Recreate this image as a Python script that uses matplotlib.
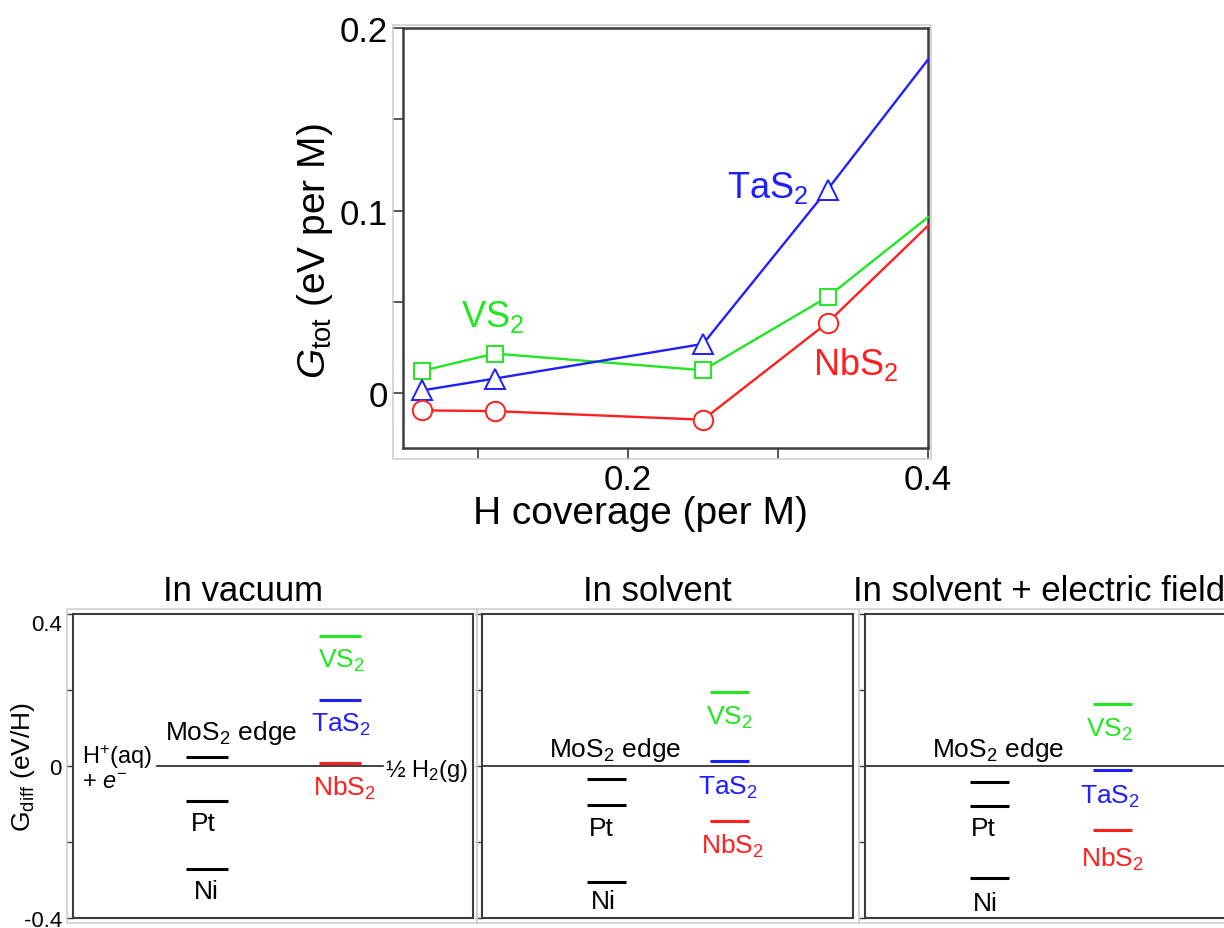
import matplotlib

matplotlib.use("Agg")

import matplotlib.pyplot as plt
from matplotlib.patches import Rectangle

plt.rcParams.update(
    {
        "font.family": ["Liberation Sans", "DejaVu Sans"],
        "mathtext.fontset": "custom",
        "mathtext.rm": "Liberation Sans",
        "mathtext.it": "Liberation Sans:italic",
        "mathtext.bf": "Liberation Sans:bold",
    }
)

# ---- top panel data: total free energy vs H coverage ----
coverage = [0.0625, 0.111, 0.25, 0.333, 0.4]
g_vs2 = [0.0122, 0.0217, 0.0126, 0.0527, 0.0964]
g_tas2 = [0.0015, 0.0080, 0.0270, 0.1115, 0.1827]
g_nbs2 = [-0.0094, -0.0098, -0.0145, 0.0386, 0.0917]

# ---- bottom panels data: differential free energy levels ----
conditions = ["In vacuum", "In solvent", "In solvent + electric field"]
ref_levels = ["MoS$_2$ edge", "Pt", "Ni"]
mos2_edge = [0.025, -0.035, -0.042]
pt_level = [-0.091, -0.102, -0.104]
ni_level = [-0.270, -0.305, -0.296]
vs2_level = [0.341, 0.194, 0.163]
tas2_level = [0.174, 0.014, -0.011]
nbs2_level = [0.009, -0.145, -0.168]

GREEN = "#22e622"
BLUE = "#1f1fff"
RED = "#ff1f1f"
SPINE = "#3c3c3c"
FRAME = "#cfcfcf"

W, H = 1224, 929
fig = plt.figure(figsize=(W / 100, H / 100), dpi=100)


def px_axes(x0, y0, x1, y1):
    return fig.add_axes([x0 / W, 1 - y1 / H, (x1 - x0) / W, (y1 - y0) / H])


def px_frame(x0, y0, x1, y1):
    fig.add_artist(
        Rectangle((x0 / W, 1 - y1 / H), (x1 - x0) / W, (y1 - y0) / H,
                  transform=fig.transFigure, fill=False, ec=FRAME, lw=1.2)
    )


# ================= top panel =================
ax = px_axes(403, 29, 928, 449)
px_frame(393, 26, 931, 460)
series = [
    (g_vs2, GREEN, "s", 12),
    (g_tas2, BLUE, "^", 14),
    (g_nbs2, RED, "o", 14),
]
for vals, col, mk, ms in series:
    ax.plot(coverage, vals, color=col, lw=1.7, marker=mk, ms=ms,
            mfc="white", mec=col, mew=1.4, markevery=[0, 1, 2, 3],
            clip_on=False, zorder=3)
ax.set_xlim(0.05, 0.4)
ax.set_ylim(-0.03, 0.2)
ax.set_xticks([0.1, 0.2, 0.3, 0.4])
ax.set_xticklabels(["", "0.2", "", "0.4"])
ax.set_yticks([0, 0.05, 0.1, 0.15, 0.2])
ax.set_yticklabels(["0", "", "0.1", "", "0.2"])
ax.tick_params(direction="out", length=8, width=1.2, labelsize=25,
               color=SPINE, pad=3)
for s in ax.spines.values():
    s.set_color(SPINE)
    s.set_linewidth(1.8)
ax.set_xlabel("H coverage (per M)", fontsize=28)
ax.set_ylabel("$G_{\\mathrm{tot}}$ (eV per M)", fontsize=28)
ax.xaxis.set_label_coords(0.453, -0.112)
ax.yaxis.set_label_coords(-0.13, 0.47)
ax.text(0.293, 0.113, "TaS$_2$", color=BLUE, fontsize=26, ha="center", va="center")
ax.text(0.110, 0.0424, "VS$_2$", color=GREEN, fontsize=26, ha="center", va="center")
ax.text(0.352, 0.016, "NbS$_2$", color=RED, fontsize=26, ha="center", va="center")

# ================= bottom panels =================
panel_px = [(73, 473), (482, 853), (865, 1236)]
frame_px = [(67, 477), (477, 859), (859, 1240)]
title_x = [0.425, 0.472, -0.032]
title_ha = ["center", "center", "left"]
black_span = (0.283, 0.387)
color_span = (0.614, 0.72)
# label positions (axes-fraction x, data y) for each panel
lab_mos2 = [(0.395, 0.089), (0.358, 0.044), (0.358, 0.044)]
lab_pt = [(0.325, -0.151), (0.321, -0.164), (0.318, -0.164)]
lab_ni = [(0.333, -0.330), (0.326, -0.355), (0.323, -0.360)]
lab_vs2 = [(0.670, 0.279), (0.666, 0.130), (0.658, 0.097)]
lab_tas2 = [(0.670, 0.112), (0.663, -0.055), (0.660, -0.078)]
lab_nbs2 = [(0.678, -0.055), (0.674, -0.209), (0.666, -0.243)]

for i, cond in enumerate(conditions):
    x0, x1 = panel_px[i]
    bx = px_axes(x0, 615, x1, 919)
    px_frame(frame_px[i][0], 610, frame_px[i][1], 924)
    bx.set_xlim(0, 1)
    bx.set_ylim(-0.4, 0.4)
    bx.set_xticks([])
    bx.set_yticks([-0.4, -0.2, 0, 0.2, 0.4])
    bx.tick_params(axis="y", direction="out", length=5, width=1.0, color=SPINE,
                   labelsize=16, pad=3)
    for s in bx.spines.values():
        s.set_color(SPINE)
        s.set_linewidth(1.5)
    if i == 0:
        bx.set_yticklabels(["-0.4", "", "0", "", "0.4"])
        bx.get_yticklabels()[4].set_va("top")
        bx.set_ylabel("G$_{\\mathrm{diff}}$ (eV/H)", fontsize=19)
        bx.yaxis.set_label_coords(-0.09, 0.5)
        bx.plot([0.21, 0.775], [0, 0], color="#222222", lw=1.2)
        bx.text(0.0225, 0.026, "H$^{+}$(aq)", fontsize=17, ha="left", va="center")
        bx.text(0.0225, -0.042, "+ $e^{-}$", fontsize=17, ha="left", va="center")
        bx.text(0.78, -0.010, "\u00bd H$_2$(g)", fontsize=17, ha="left", va="center")
    else:
        bx.set_yticklabels([])
        bx.axhline(0, color="#222222", lw=1.2)

    bx.text(title_x[i], 1.045, cond, transform=bx.transAxes, fontsize=25,
            ha=title_ha[i], va="baseline", clip_on=False)

    for val in (mos2_edge[i], pt_level[i], ni_level[i]):
        bx.plot(black_span, [val, val], color="black", lw=2.2, solid_capstyle="butt")
    for val, col in ((vs2_level[i], GREEN), (tas2_level[i], BLUE), (nbs2_level[i], RED)):
        bx.plot(color_span, [val, val], color=col, lw=2.2, solid_capstyle="butt")

    labels = [
        (lab_mos2[i], ref_levels[0], "black"),
        (lab_pt[i], ref_levels[1], "black"),
        (lab_ni[i], ref_levels[2], "black"),
        (lab_vs2[i], "VS$_2$", GREEN),
        (lab_tas2[i], "TaS$_2$", BLUE),
        (lab_nbs2[i], "NbS$_2$", RED),
    ]
    for (tx, ty), txt, col in labels:
        bx.text(tx, ty, txt, color=col, fontsize=19, ha="center", va="center")

fig.savefig("out.png", dpi=100)
